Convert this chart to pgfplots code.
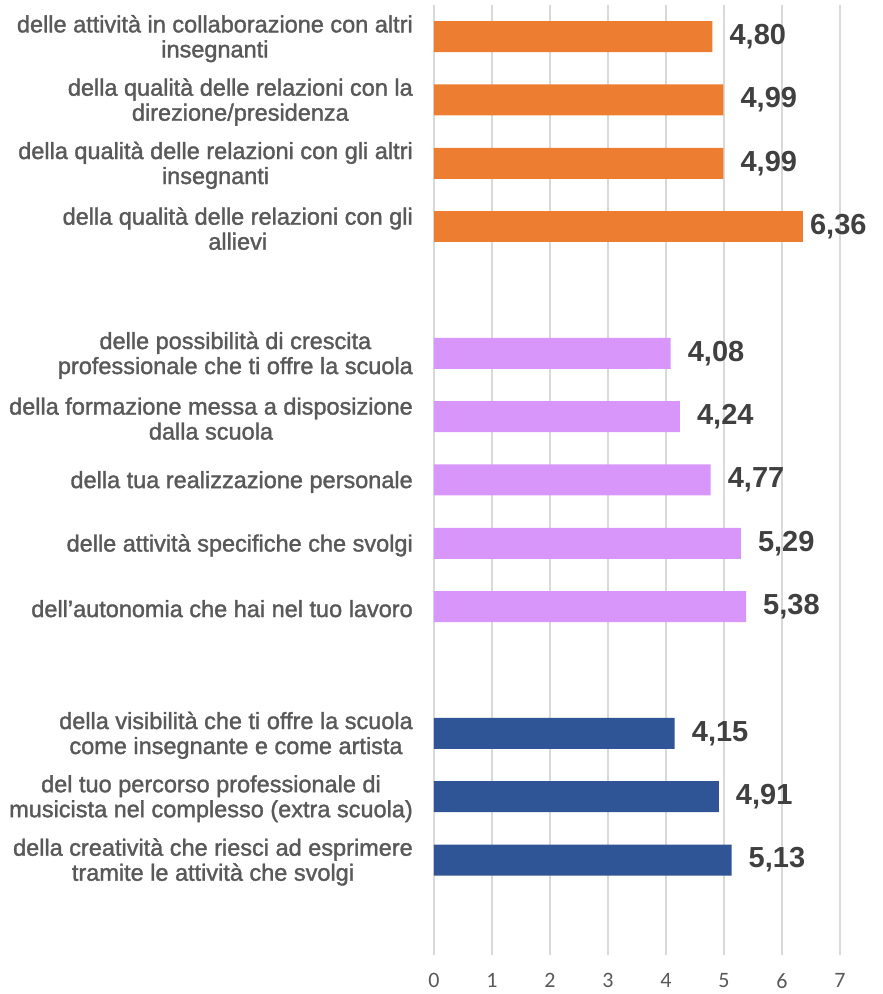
\documentclass[border=0pt]{standalone}
\usepackage{pgfplots}
\pgfplotsset{compat=1.18}
\usepackage{fontspec}
\setmainfont{Liberation Sans}
\newfontfamily\labfont[FakeBold=1.5]{Liberation Sans}
\newfontfamily\tickfont{Carlito}
\definecolor{cOr}{HTML}{ED7D31}
\definecolor{cPu}{HTML}{D895FA}
\definecolor{cBl}{HTML}{2F5597}
\definecolor{cLab}{HTML}{595959}
\definecolor{cVal}{HTML}{404040}
\definecolor{cGrid}{HTML}{D9D9D9}
\begin{document}
\begin{tikzpicture}
\begin{axis}[
  scale only axis,
  width=406pt, height=950pt,
  xmin=0, xmax=7,
  ymin=-14.5, ymax=0.5,
  xtick={0,1,2,3,4,5,6,7},
  /pgf/number format/assume math mode=true,
  ytick={0,-1,-2,-3,-5,-6,-7,-8,-9,-11,-12,-13},
  yticklabels={
    {delle attività in collaborazione con altri\\insegnanti},
    {della qualità delle relazioni con la\\direzione/presidenza},
    {della qualità delle relazioni con gli altri\\insegnanti},
    {della qualità delle relazioni con gli\\allievi},
    {delle possibilità di crescita\\professionale che ti offre la scuola},
    {della formazione messa a disposizione\\dalla scuola},
    {della tua realizzazione personale},
    {delle attività specifiche che svolgi},
    {dell’autonomia che hai nel tuo lavoro},
    {della visibilità che ti offre la scuola\\come insegnante e come artista},
    {del tuo percorso professionale di\\musicista nel complesso (extra scuola)},
    {della creatività che riesci ad esprimere\\tramite le attività che svolgi}},
  axis line style={draw=none},
  major tick length=0pt,
  xmajorgrids,
  grid style={cGrid, line width=1.5pt},
  yticklabel style={anchor=east, align=center, inner sep=0pt, xshift=-21pt, yshift=-2pt,
    font=\fontsize{23.5}{25}\labfont, text=cLab},
  xticklabel style={font=\fontsize{22}{26}\tickfont, text=cLab, inner sep=0pt, yshift=-18pt},
  point meta=x,
  nodes near coords={\pgfmathprintnumber[fixed,fixed zerofill,precision=2,use comma,assume math mode=true]{\pgfplotspointmeta}},
  nodes near coords style={font=\fontsize{29}{30}\selectfont\bfseries, text=cVal, anchor=west, inner sep=0pt, xshift=17pt},
  clip=false,
]
\addplot[xbar, bar width=31pt, bar shift=0pt, fill=cOr, draw=none] coordinates {(4.80,0) (4.99,-1) (4.99,-2)};
\addplot[xbar, bar width=31pt, bar shift=0pt, fill=cOr, draw=none, nodes near coords style={xshift=-10pt}] coordinates {(6.36,-3)};
\addplot[xbar, bar width=31pt, bar shift=0pt, fill=cPu, draw=none] coordinates {(4.08,-5) (4.24,-6) (4.77,-7) (5.29,-8) (5.38,-9)};
\addplot[xbar, bar width=31pt, bar shift=0pt, fill=cBl, draw=none] coordinates {(4.15,-11) (4.91,-12) (5.13,-13)};
\coordinate (bl) at (rel axis cs:0,0);
\end{axis}
\path[use as bounding box] ([shift={(-434pt,-39pt)}]bl) rectangle ([shift={(449pt,955pt)}]bl);
\end{tikzpicture}
\end{document}
